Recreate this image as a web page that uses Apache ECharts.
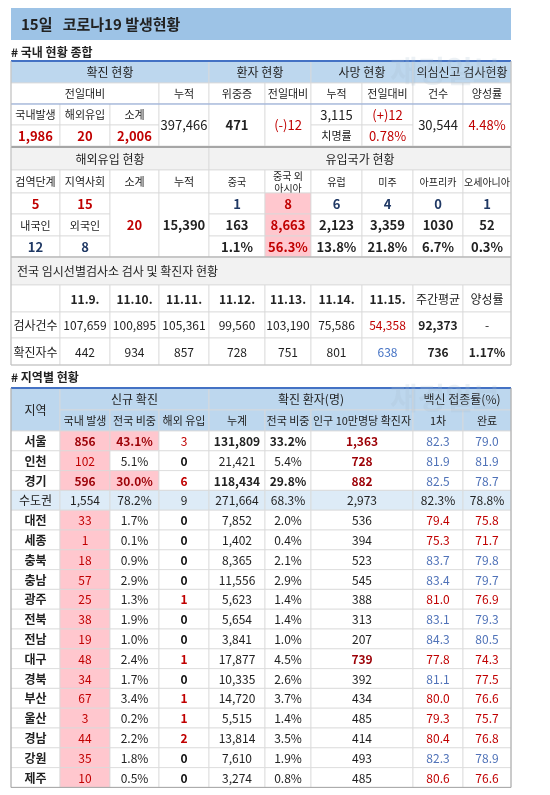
<!DOCTYPE html>
<html><head><meta charset="utf-8">
<script src="https://cdn.jsdelivr.net/npm/echarts@6/dist/echarts.min.js"></script>
<style>html,body{margin:0;padding:0;background:#fff}#c{width:550px;height:795px}</style>
</head><body><div id="c"></div>
<script>
// ---- data ----
const title = '15일   코로나19 발생현황';
const sec1Head1 = ['확진 현황','환자 현황','사망 현황','의심신고 검사현황'];
const sec1Head2 = ['전일대비','누적','위중증','전일대비','누적','전일대비','건수','양성률'];
const sec1Labels = ['국내발생','해외유입','소계'];
const sec1Confirmed = ['1,986','20','2,006'];
const sec1Cum = '397,466', sec1Severe = '471', sec1SevereDiff = '(-)12';
const sec1Death = '3,115', sec1DeathDiff = '(+)12', sec1FatalLabel = '치명률', sec1Fatal = '0.78%';
const sec1Tests = '30,544', sec1Positive = '4.48%';
const sec2Head = ['해외유입 현황','유입국가 현황'];
const sec2Cols = ['검역단계','지역사회','소계','누적','중국','중국 외\n아시아','유럽','미주','아프리카','오세아니아'];
const sec2Stage = ['5','15'], sec2NatLabels = ['내국인','외국인'], sec2Nat = ['12','8'];
const sec2Sub = '20', sec2Cum = '15,390';
const originToday = ['1','8','6','4','0','1'];
const originCum = ['163','8,663','2,123','3,359','1030','52'];
const originPct = ['1.1%','56.3%','13.8%','21.8%','6.7%','0.3%'];
const sec3Title = '전국 임시선별검사소 검사 및 확진자 현황';
const dates = ['11.9.','11.10.','11.11.','11.12.','11.13.','11.14.','11.15.','주간평균','양성률'];
const testsRow = ['107,659','100,895','105,361','99,560','103,190','75,586','54,358','92,373','-'];
const casesRow = ['442','934','857','728','751','801','638','736','1.17%'];
const regHead1 = ['지역','신규 확진','확진 환자(명)','백신 접종률(%)'];
const regHead2 = ['국내 발생','전국 비중','해외 유입','누계','전국 비중','인구 10만명당 확진자','1차','완료'];
const regions = ['서울','인천','경기','수도권','대전','세종','충북','충남','광주','전북','전남','대구','경북','부산','울산','경남','강원','제주'];
const domestic = [856,102,596,1554,33,1,18,57,25,38,19,48,34,67,3,44,35,10];
const share = [43.1,5.1,30.0,78.2,1.7,0.1,0.9,2.9,1.3,1.9,1.0,2.4,1.7,3.4,0.2,2.2,1.8,0.5];
const overseas = [3,0,6,9,0,0,0,0,1,0,0,1,0,1,1,2,0,0];
const cumulative = [131809,21421,118434,271664,7852,1402,8365,11556,5623,5654,3841,17877,10335,14720,5515,13814,7610,3274];
const cumShare = [33.2,5.4,29.8,68.3,2.0,0.4,2.1,2.9,1.4,1.4,1.0,4.5,2.6,3.7,1.4,3.5,1.9,0.8];
const per100k = [1363,728,882,2973,536,394,523,545,388,313,207,739,392,434,485,414,493,485];
const vacc1 = [82.3,81.9,82.5,82.3,79.4,75.3,83.7,83.4,81.0,83.1,84.3,77.8,81.1,80.0,79.3,80.4,82.3,80.6];
const vacc2 = [79.0,81.9,78.7,78.8,75.8,71.7,79.8,79.7,76.9,79.3,80.5,74.3,77.5,76.6,75.7,76.8,78.9,76.6];

// ---- layout ----
const X = [11,60,110,159,209,265,311,362,413,463,511];
const Y1 = [61,83,104,125,146];
const Y2 = [147,170,193,214,236,257];
const Y3 = [257,285,312,338,365];
const RH = [388,410,431], RROW = 19.8;
const RED='#C00000', DRED='#9C0006', PINK='#FFC7CE', HB='#BDD7EE', NAVY='#1F3864', BLU='#4F72B8', GR='#f2f2f2';
const F = '"Noto Sans CJK KR","Noto Sans",sans-serif';
const fmt = n => n.toLocaleString('en-US');

const items = [];
function cell(c0,c1,y0,y1,text,o){ o=o||{}; items.push(Object.assign({k:'cell',x0:X[c0],x1:X[c1],y0,y1,text},o)); }
function rawcell(x0,x1,y0,y1,text,o){ items.push(Object.assign({k:'cell',x0,x1,y0,y1,text},o||{})); }
function line(x0,y0,x1,y1,color,w){ items.push({k:'line',x0,y0,x1,y1,color,w}); }

rawcell(11,511,8,40,title,{bg:'#9DC3E6',size:15,bold:true,align:'left',pad:10,stroke:'none'});
rawcell(11,300,43,60,'# 국내 현황 종합',{size:12,bold:true,align:'left',pad:0,stroke:'none',bg:'none'});
[[0,4],[4,6],[6,8],[8,10]].forEach((s,i)=>cell(s[0],s[1],Y1[0],Y1[1],sec1Head1[i],{bg:HB,size:12}));
[[0,3],[3,4],[4,5],[5,6],[6,7],[7,8],[8,9],[9,10]].forEach((s,i)=>cell(s[0],s[1],Y1[1],Y1[2],sec1Head2[i],{size:11}));
sec1Labels.forEach((t,i)=>cell(i,i+1,Y1[2],Y1[3],t,{size:11}));
sec1Confirmed.forEach((t,i)=>cell(i,i+1,Y1[3],Y1[4],t,{color:RED,bold:true,size:13}));
cell(3,4,Y1[2],Y1[4],sec1Cum,{size:13});
cell(4,5,Y1[2],Y1[4],sec1Severe,{size:13,bold:true});
cell(5,6,Y1[2],Y1[4],sec1SevereDiff,{size:13,color:RED});
cell(6,7,Y1[2],Y1[3],sec1Death,{size:13});
cell(7,8,Y1[2],Y1[3],sec1DeathDiff,{size:13,color:RED});
cell(6,7,Y1[3],Y1[4],sec1FatalLabel,{size:11});
cell(7,8,Y1[3],Y1[4],sec1Fatal,{size:13,color:RED});
cell(8,9,Y1[2],Y1[4],sec1Tests,{size:13});
cell(9,10,Y1[2],Y1[4],sec1Positive,{size:13,color:RED});
cell(0,4,Y2[0],Y2[1],sec2Head[0],{bg:GR,size:12});
cell(4,10,Y2[0],Y2[1],sec2Head[1],{bg:GR,size:12});
sec2Cols.forEach((t,i)=>cell(i,i+1,Y2[1],Y2[2],t,{size:i>=4?10:11}));
sec2Stage.forEach((t,i)=>cell(i,i+1,Y2[2],Y2[3],t,{color:RED,bold:true,size:13}));
sec2NatLabels.forEach((t,i)=>cell(i,i+1,Y2[3],Y2[4],t,{size:11}));
sec2Nat.forEach((t,i)=>cell(i,i+1,Y2[4],Y2[5],t,{color:NAVY,bold:true,size:13}));
cell(2,3,Y2[2],Y2[5],sec2Sub,{color:RED,bold:true,size:13});
cell(3,4,Y2[2],Y2[5],sec2Cum,{size:13,bold:true});
[originToday,originCum,originPct].forEach((arr,r)=>arr.forEach((t,i)=>{
  const pk = i===1;
  cell(4+i,5+i,Y2[2+r],Y2[3+r],t,{size:13,bold:true,color:pk?RED:(r===0?NAVY:'#222'),bg:pk?PINK:undefined});
}));
rawcell(X[0],X[10],Y3[0],Y3[1],sec3Title,{bg:GR,size:12,align:'left',pad:6});
cell(0,1,Y3[1],Y3[2],'');
dates.forEach((t,i)=>cell(i+1,i+2,Y3[1],Y3[2],t,{bold:i<7,size:12}));
cell(0,1,Y3[2],Y3[3],'검사건수',{size:12});
cell(0,1,Y3[3],Y3[4],'확진자수',{size:12});
testsRow.forEach((t,i)=>cell(i+1,i+2,Y3[2],Y3[3],t,{size:12,color:i===6?RED:'#222',bold:i===7}));
casesRow.forEach((t,i)=>cell(i+1,i+2,Y3[3],Y3[4],t,{size:12,color:i===6?'#4472C4':'#222',bold:i>=7}));
rawcell(11,300,368,386,'# 지역별 현황',{size:12,bold:true,align:'left',pad:0,stroke:'none',bg:'none'});
cell(0,1,RH[0],RH[2],regHead1[0],{bg:HB,size:12});
cell(1,4,RH[0],RH[1],regHead1[1],{bg:HB,size:12});
cell(4,8,RH[0],RH[1],regHead1[2],{bg:HB,size:12});
cell(8,10,RH[0],RH[1],regHead1[3],{bg:HB,size:12});
[[1,2],[2,3],[3,4],[4,5],[5,6],[6,8],[8,9],[9,10]].forEach((s,i)=>cell(s[0],s[1],RH[1],RH[2],regHead2[i],{bg:HB,size:11}));
regions.forEach((r,i)=>{
  const y0 = RH[2]+i*RROW, y1 = y0+RROW;
  const cap = i===3, big = (i===0||i===2);
  const rb = cap?'#DDEBF7':undefined;
  cell(0,1,y0,y1,r,{size:12,bold:!cap,bg:rb});
  cell(1,2,y0,y1,fmt(domestic[i]),{size:12,bg:cap?rb:PINK,color:cap?'#222':(big?DRED:RED),bold:big});
  cell(2,3,y0,y1,share[i].toFixed(1)+'%',{size:12,bg:big?PINK:rb,color:big?DRED:'#222',bold:big});
  cell(3,4,y0,y1,String(overseas[i]),{size:12,bg:rb,color:cap?'#222':(overseas[i]>0?RED:'#111'),bold:!cap&&!(i===0)});
  cell(4,5,y0,y1,fmt(cumulative[i]),{size:12,bg:rb,bold:big});
  cell(5,6,y0,y1,cumShare[i].toFixed(1)+'%',{size:12,bg:rb,bold:big});
  const hot = [0,1,2,11].includes(i);
  cell(6,8,y0,y1,fmt(per100k[i]),{size:12,bg:rb,color:hot?DRED:'#222',bold:hot});
  cell(8,9,y0,y1,vacc1[i].toFixed(1)+(cap?'%':''),{size:12,bg:rb,color:cap?'#222':(vacc1[i]>=81.1?BLU:RED)});
  cell(9,10,y0,y1,vacc2[i].toFixed(1)+(cap?'%':''),{size:12,bg:rb,color:cap?'#222':(vacc2[i]>=78?BLU:RED)});
});
const RB = RH[2]+regions.length*RROW;
line(X[0],Y1[0],X[10],Y1[0],'#4472C4',2);
line(X[0],Y1[2],X[10],Y1[2],'#8EA9DB',1);
line(X[0],Y2[0],X[10],Y2[0],'#a6a6a6',2);
line(X[0],Y3[0],X[10],Y3[0],'#a6a6a6',1);
line(X[0],Y1[0],X[0],Y3[4],'#bfbfbf',1);
line(X[10],Y1[0],X[10],Y3[4],'#bfbfbf',1);
line(X[0],Y3[4],X[10],Y3[4],'#bfbfbf',1);
line(X[0],RH[0],X[10],RH[0],'#4472C4',2);
line(X[0],RH[0],X[0],RB,'#a6a6a6',1);
line(X[10],RH[0],X[10],RB,'#a6a6a6',1);
line(X[0],RB,X[10],RB,'#a6a6a6',1);

const wm = [[390,470,56],[390,470,383]];

const chart = echarts.init(document.getElementById('c'),null,{renderer:'canvas'});
chart.setOption({
  animation:false,
  grid:{left:0,right:0,top:0,bottom:0},
  xAxis:{type:'value',min:0,max:550,show:false},
  yAxis:{type:'value',min:0,max:795,inverse:true,show:false},
  series:[{
    type:'custom', coordinateSystem:'cartesian2d',
    data: items.map(c=>[c.x0,c.y0,c.x1,c.y1]),
    renderItem:(params,api)=>{
      const c = items[params.dataIndex];
      const p0 = api.coord([api.value(0),api.value(1)]), p1 = api.coord([api.value(2),api.value(3)]);
      if(c.k==='line') return {type:'line',shape:{x1:p0[0],y1:p0[1],x2:p1[0],y2:p1[1]},style:{stroke:c.color,lineWidth:c.w}};
      const ch = [{type:'rect',shape:{x:p0[0],y:p0[1],width:p1[0]-p0[0],height:p1[1]-p0[1]},
        style:{fill:c.bg==='none'?null:(c.bg||'#fff'),stroke:c.stroke==='none'?null:'#d9d9d9',lineWidth:0.8}}];
      const left = c.align==='left';
      ch.push({type:'text',style:{text:c.text,x:left?p0[0]+(c.pad||0):(p0[0]+p1[0])/2,y:(p0[1]+p1[1])/2+0.5,
        align:left?'left':'center',verticalAlign:'middle',fill:c.color||'#222',lineHeight:12,
        font:(c.bold?'bold ':'')+(c.size||12)+'px '+F}});
      return {type:'group',children:ch};
    }
  }],
  graphic: wm.map(w=>({type:'text',left:w[0],top:w[2],silent:true,z:100,
    style:{text:'재경일보',fill:'rgba(170,190,210,0.22)',font:'bold 30px '+F}}))
});
</script></body></html>
